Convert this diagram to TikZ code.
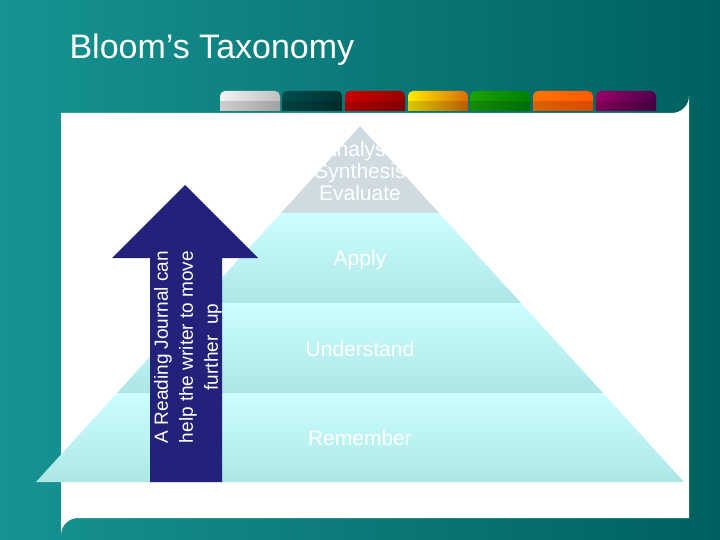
\documentclass[tikz,border=0pt]{standalone}
\usepackage{fontspec}
\setmainfont{Liberation Sans}
\begin{document}
\begin{tikzpicture}[x=1pt,y=-1pt,
  lbl/.style={text=white,font=\fontsize{21}{25}\selectfont,align=center},
  band/.style={top color=cyan!20, bottom color=cyan!15!white!80!teal},
  tab/.style={rounded corners=5pt}]
\useasboundingbox (0,0) rectangle (720,540);
\shade[left color=teal!80!cyan!90!white!90!black, right color=teal!75!black] (0,0) rectangle (720,540);
\node[anchor=west,text=white,font=\fontsize{34}{40}\selectfont] (title) at (66,50) {Bloom’s Taxonomy};
% tabs
\foreach \x/\ca/\cb in {220/gray!10/gray!50,282/teal!60!black/teal!40!black,345/red!80!black/red!60!black,408/yellow!85!orange/orange!85!black,470/green!60!black!90!yellow/green!50!black,533/orange!90!red/orange!70!red,596/violet!80!red/violet!60!black}{
  \shade[left color=\ca,right color=\cb] (\x,111) [tab] -- (\x,91) -- (\x+60,91) [sharp corners] -- (\x+60,111) -- cycle;
  \fill[black,opacity=0.15] (\x,101) rectangle (\x+60,111);
}
% panel
\fill[white] (61,113) -- (672,113) arc[start angle=90,end angle=0,radius=17] -- (689,518) -- (78,518) arc[start angle=270,end angle=180,radius=17] -- cycle;
% pyramid
\fill[cyan!25!gray!35!white] (360,126) -- (439,213) -- (281,213) -- cycle;
\shade[band] (281,213) -- (439,213) -- (521,303) -- (199,303) -- cycle;
\shade[band] (199,303) -- (521,303) -- (603,393) -- (117,393) -- cycle;
\shade[band] (117,393) -- (603,393) -- (684,482) -- (36,482) -- cycle;
\node[lbl] (t1) at (360,171) {Analyse\\[-3pt]Synthesis\\[-3pt]Evaluate};
\node[lbl] (t2) at (360,260) {Apply};
\node[lbl] (t3) at (360,349) {Understand};
\node[lbl] (t4) at (360,438) {Remember};
% arrow
\fill[blue!45!black!85!white!90!black] (150,482) -- (150,258) -- (112,258) -- (185,185) -- (258,258) -- (222,258) -- (222,482) -- cycle;
\node[rotate=90,text=white,font=\fontsize{19}{25}\selectfont,align=center] (arr) at (188,347) {A Reading Journal can\\help the writer to move\\further\ \ up};
\end{tikzpicture}
\end{document}
